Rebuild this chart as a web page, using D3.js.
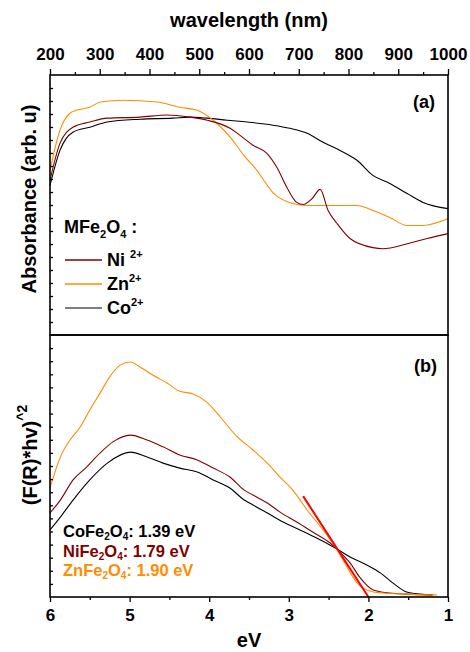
<!DOCTYPE html>
<html>
<head>
<meta charset="utf-8">
<script src="https://cdn.jsdelivr.net/npm/d3@7"></script>
<style>
  body { margin: 0; background: #fff; }
  svg text { font-family: "Liberation Sans", Arial, sans-serif; font-weight: bold; }
</style>
</head>
<body>
<svg id="chart" width="470" height="652"></svg>
<script>
// --- data ---
// panel (a): [wavelength nm, absorbance arb. u]
const znAbs = [[200,0.633],[220,0.788],[240,0.853],[254,0.865],[280,0.876],[301,0.896],[347,0.903],[415,0.896],[461,0.876],[495,0.865],[528,0.826],[562,0.761],[590,0.69],[616,0.633],[648,0.548],[688,0.506],[717,0.498],[783,0.498],[817,0.498],[849,0.479],[883,0.452],[918,0.421],[950,0.421],[984,0.436],[1000,0.448]];
const niAbs = [[200,0.595],[220,0.737],[246,0.799],[280,0.819],[315,0.834],[381,0.838],[435,0.846],[481,0.838],[516,0.826],[562,0.795],[582,0.768],[608,0.730],[636,0.699],[656,0.645],[676,0.568],[696,0.510],[709,0.502],[727,0.525],[743,0.560],[759,0.479],[777,0.429],[803,0.371],[849,0.336],[869,0.332],[918,0.351],[958,0.371],[1000,0.390]];
const coAbs = [[200,0.575],[220,0.710],[246,0.780],[280,0.799],[315,0.819],[381,0.830],[447,0.834],[481,0.838],[516,0.834],[556,0.826],[596,0.819],[648,0.807],[682,0.795],[717,0.776],[749,0.741],[783,0.710],[817,0.672],[849,0.614],[883,0.583],[918,0.544],[950,0.510],[1000,0.486]];

// panel (b): [photon energy eV, (F(R)*hv)^2]
const znKm = [[6.00,0.416],[5.87,0.534],[5.75,0.599],[5.62,0.649],[5.50,0.714],[5.37,0.779],[5.25,0.840],[5.12,0.885],[4.99,0.897],[4.87,0.878],[4.71,0.847],[4.53,0.817],[4.37,0.785],[4.20,0.775],[4.03,0.744],[3.86,0.687],[3.66,0.615],[3.45,0.561],[3.27,0.511],[3.11,0.458],[2.95,0.408],[2.77,0.332],[2.57,0.256],[2.39,0.179],[2.27,0.115],[2.14,0.053],[2.02,0.027],[1.82,0.015],[1.52,0.011],[1.23,0.008],[1.14,0.008]];
const niKm = [[6.00,0.321],[5.87,0.370],[5.71,0.447],[5.54,0.496],[5.37,0.550],[5.21,0.592],[4.99,0.618],[4.78,0.599],[4.58,0.573],[4.37,0.542],[4.15,0.523],[3.95,0.492],[3.74,0.458],[3.56,0.408],[3.45,0.389],[3.27,0.359],[3.11,0.324],[2.90,0.286],[2.70,0.248],[2.48,0.206],[2.36,0.172],[2.23,0.130],[2.11,0.076],[1.94,0.027],[1.73,0.015],[1.52,0.011],[1.20,0.008]];
const coKm = [[6.00,0.256],[5.87,0.305],[5.71,0.370],[5.50,0.447],[5.28,0.511],[4.99,0.553],[4.78,0.534],[4.58,0.511],[4.37,0.492],[4.15,0.477],[3.95,0.447],[3.74,0.416],[3.56,0.370],[3.45,0.351],[3.27,0.321],[3.07,0.286],[2.86,0.256],[2.65,0.225],[2.44,0.191],[2.23,0.153],[2.02,0.122],[1.85,0.092],[1.69,0.053],[1.52,0.019],[1.35,0.011],[1.19,0.008]];
const tangent = [[2.82,0.385],[2.00,0.0]];

const wlTicks = [200, 300, 400, 500, 600, 700, 800, 900, 1000];
const evTicks = [6, 5, 4, 3, 2, 1];
const legendNames = ['Ni', 'Zn', 'Co'];
const gapLabels = [['Co', '1.39 eV'], ['Ni', '1.79 eV'], ['Zn', '1.90 eV']];

const colors = { Ni: '#800000', Zn: '#ff8c00', Co: '#000000' };

// --- layout ---
const svg = d3.select('#chart');
const left = 50, right = 448, topY = 75, midY = 335, botY = 597;

const xWl = d3.scaleLinear().domain([200, 1000]).range([left, right]);
const xEv = d3.scaleLinear().domain([6, 1]).range([left, right]);
const yA = d3.scaleLinear().domain([0, 1]).range([midY, topY]);
const yB = d3.scaleLinear().domain([0, 1]).range([botY, midY]);

// curves
const lineA = d3.line().x(d => xWl(d[0])).y(d => yA(d[1])).curve(d3.curveMonotoneX);
const lineB = d3.line().x(d => xEv(d[0])).y(d => yB(d[1])).curve(d3.curveMonotoneX);

[[coAbs, 'Co'], [znAbs, 'Zn'], [niAbs, 'Ni']].forEach(([data, k]) => {
  svg.append('path').datum(data).attr('d', lineA)
    .attr('fill', 'none').attr('stroke', colors[k]).attr('stroke-width', 1.1);
});
[[coKm, 'Co'], [niKm, 'Ni'], [znKm, 'Zn']].forEach(([data, k]) => {
  svg.append('path').datum(data).attr('d', lineB)
    .attr('fill', 'none').attr('stroke', colors[k]).attr('stroke-width', 1.1);
});
svg.append('path').datum(tangent)
  .attr('d', d3.line().x(d => xEv(d[0])).y(d => yB(d[1])))
  .attr('fill', 'none').attr('stroke', '#ff0000').attr('stroke-width', 2);

// axes
function styleAxis(g) {
  g.select('.domain').remove();
  g.selectAll('line').attr('stroke', '#000').attr('stroke-width', 1.3);
  g.selectAll('text').attr('font-size', 17).attr('fill', '#000');
}

svg.append('g').attr('transform', `translate(0,${topY})`)
  .call(d3.axisTop(xWl).tickValues(wlTicks).tickSize(6).tickPadding(9).tickFormat(d3.format('d')))
  .call(styleAxis);
svg.append('g').attr('transform', `translate(0,${topY})`)
  .call(d3.axisTop(xWl).tickValues(d3.range(250, 1000, 100)).tickSize(3).tickFormat(''))
  .call(styleAxis);

svg.append('g').attr('transform', `translate(0,${botY})`)
  .call(d3.axisBottom(xEv).tickValues(evTicks).tickSize(5).tickPadding(7).tickFormat(d3.format('d')))
  .call(styleAxis);
svg.append('g').attr('transform', `translate(0,${botY})`)
  .call(d3.axisBottom(xEv).tickValues([5.5, 4.5, 3.5, 2.5, 1.5]).tickSize(3).tickFormat(''))
  .call(styleAxis);

// inward ticks on left spine
[yA, yB].forEach(y => {
  svg.append('g').attr('transform', `translate(${left},0)`)
    .call(d3.axisLeft(y).tickValues(d3.range(0.05, 1, 0.05)).tickSize(-3).tickFormat(''))
    .call(styleAxis);
});

// frames
[[topY, midY], [midY, botY]].forEach(([a, b]) => {
  svg.append('rect').attr('x', left).attr('y', a).attr('width', right - left).attr('height', b - a)
    .attr('fill', 'none').attr('stroke', '#000').attr('stroke-width', 1.6);
});

// axis titles
svg.append('text').attr('x', (left + right) / 2).attr('y', 27).attr('text-anchor', 'middle')
  .attr('font-size', 20).text('wavelength (nm)');
svg.append('text').attr('x', (left + right) / 2).attr('y', 647).attr('text-anchor', 'middle')
  .attr('font-size', 20).text('eV');
svg.append('text').attr('transform', `translate(36,199) rotate(-90)`)
  .attr('text-anchor', 'middle').attr('font-size', 20).text('Absorbance (arb. u)');
const fr = svg.append('text').attr('transform', `translate(37,455) rotate(-90)`)
  .attr('text-anchor', 'middle').attr('font-size', 20);
fr.append('tspan').text('(F(R)*hv)');
fr.append('tspan').attr('dy', -10).attr('font-size', 14).text('^2');

// panel labels
svg.append('text').attr('x', 435).attr('y', 108).attr('text-anchor', 'end').attr('font-size', 18).text('(a)');
svg.append('text').attr('x', 437).attr('y', 372).attr('text-anchor', 'end').attr('font-size', 18).text('(b)');

// legend
const mf = svg.append('text').attr('x', 64).attr('y', 233).attr('font-size', 18);
mf.append('tspan').text('MFe');
mf.append('tspan').attr('dy', 5).attr('font-size', 11).text('2');
mf.append('tspan').attr('dy', -5).text('O');
mf.append('tspan').attr('dy', 5).attr('font-size', 11).text('4');
mf.append('tspan').attr('dy', -5).text(' :');

legendNames.forEach((k, i) => {
  const y = 260 + i * 24;
  svg.append('line').attr('x1', 65).attr('x2', 102).attr('y1', y).attr('y2', y)
    .attr('stroke', k === 'Co' ? '#555' : colors[k]).attr('stroke-width', 1.3);
  const t = svg.append('text').attr('x', 107).attr('y', y + 6).attr('font-size', 18);
  t.append('tspan').text(k === 'Ni' ? 'Ni ' : k);
  t.append('tspan').attr('dy', -8).attr('font-size', 11).text('2+');
});

// band gap labels
gapLabels.forEach(([k, v], i) => {
  const t = svg.append('text').attr('x', 63).attr('y', 537 + i * 19.5).attr('font-size', 16.5)
    .attr('fill', colors[k]);
  t.append('tspan').text(k + 'Fe');
  t.append('tspan').attr('dy', 3).attr('font-size', 10).text('2');
  t.append('tspan').attr('dy', -3).text('O');
  t.append('tspan').attr('dy', 3).attr('font-size', 10).text('4');
  t.append('tspan').attr('dy', -3).text(': ' + v);
});
</script>
</body>
</html>
